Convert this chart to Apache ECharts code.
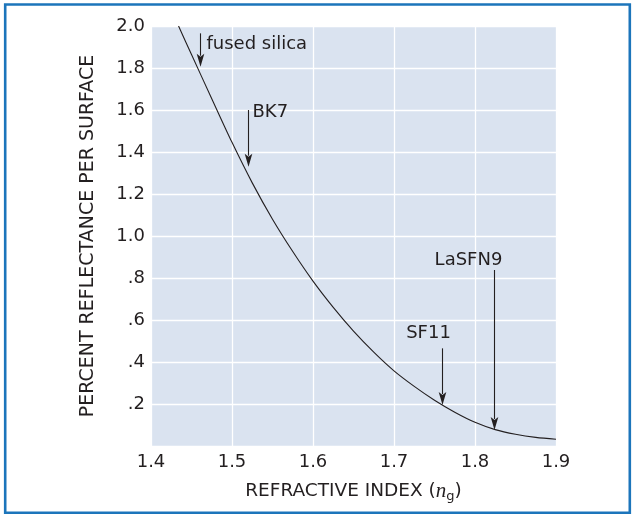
<!DOCTYPE html>
<html><head><meta charset="utf-8">
<script src="https://cdn.jsdelivr.net/npm/echarts@6/dist/echarts.min.js"></script>
<style>html,body{margin:0;padding:0;background:#fff}#c{width:634px;height:515px}</style>
</head><body><div id="c"></div>
<script>
// Curve: refractive index vs percent reflectance per surface
const indexValues = [1.434, 1.45, 1.475, 1.5, 1.525, 1.55, 1.575, 1.6, 1.625, 1.65, 1.675, 1.7, 1.725, 1.75, 1.775, 1.8, 1.825, 1.85, 1.875, 1.9];
const reflectance = [2.00, 1.864, 1.654, 1.446, 1.253, 1.08, 0.926, 0.785, 0.66, 0.547, 0.447, 0.358, 0.284, 0.218, 0.161, 0.113, 0.078, 0.056, 0.041, 0.032];
// Tick labels
const xTickLabels = ['1.4', '1.5', '1.6', '1.7', '1.8', '1.9'];
const yTickLabels = ['', '.2', '.4', '.6', '.8', '1.0', '1.2', '1.4', '1.6', '1.8', '2.0'];
// Glass annotations
const glassNames = ['fused silica', 'BK7', 'SF11', 'LaSFN9'];
const glassIndex = [1.4605, 1.52, 1.7589, 1.8239];
const arrowTop = [1.965, 1.60, 0.465, 0.838];
const arrowTip = [1.806, 1.33, 0.195, 0.076];

const TEXT = '#231f20';
const FONT = 'DejaVu Sans';
// label placement relative to arrow top (pixels) - style only
const labelStyle = [
  { dx: 6, dy: 11, align: 'left' },
  { dx: 4, dy: 2, align: 'left' },
  { dx: -14, dy: -15, align: 'center' },
  { dx: -26, dy: -10, align: 'center' }
];

const curve = indexValues.map((n, i) => [n, reflectance[i]]);
const arrows = glassIndex.map((n, i) => [n, arrowTop[i], arrowTip[i], i]);

const chart = echarts.init(document.getElementById('c'), null, { renderer: 'canvas' });
chart.setOption({
  animation: false,
  backgroundColor: '#ffffff',
  textStyle: { fontFamily: FONT, color: TEXT },
  grid: { left: 151, right: 78, top: 26, bottom: 69, show: true, backgroundColor: '#dae3f0', borderWidth: 0 },
  graphic: [{
    type: 'rect', silent: true, z: 100,
    shape: { x: 5.2, y: 4.5, width: 624.6, height: 508.3 },
    style: { fill: 'none', stroke: '#1c75bb', lineWidth: 2.6 }
  }],
  xAxis: {
    type: 'value', min: 1.4, max: 1.9, interval: 0.1,
    axisLine: { show: false }, axisTick: { show: false },
    splitLine: { show: true, lineStyle: { color: '#ffffff', width: 1.3 } },
    axisLabel: {
      color: TEXT, fontSize: 18, fontFamily: FONT, margin: 7,
      formatter: v => xTickLabels[Math.round((v - 1.4) * 10)]
    },
    name: '{t|REFRACTIVE INDEX (}{n|n}{s|g}{t|)}',
    nameLocation: 'middle', nameGap: 34,
    nameTextStyle: {
      rich: {
        t: { fontSize: 18.5, fontFamily: FONT, color: TEXT },
        n: { fontSize: 21, fontFamily: 'Liberation Serif', fontStyle: 'italic', color: TEXT },
        s: { fontSize: 13, fontFamily: FONT, color: TEXT, padding: [10, 0, 0, 0] }
      }
    }
  },
  yAxis: {
    type: 'value', min: 0, max: 2.0, interval: 0.2,
    axisLine: { show: false }, axisTick: { show: false },
    splitLine: { show: true, lineStyle: { color: '#ffffff', width: 1.3 } },
    axisLabel: {
      color: TEXT, fontSize: 18, fontFamily: FONT, margin: 6,
      formatter: v => yTickLabels[Math.round(v / 0.2)]
    },
    name: 'PERCENT REFLECTANCE PER SURFACE',
    nameLocation: 'middle', nameGap: 53, nameRotate: 90,
    nameTextStyle: { fontSize: 19, fontFamily: FONT, color: TEXT }
  },
  series: [
    {
      type: 'line', data: curve, smooth: 0.3, showSymbol: false, symbol: 'none',
      lineStyle: { color: TEXT, width: 1.1 }, z: 3
    },
    {
      type: 'custom', data: arrows, clip: false, z: 4,
      encode: { x: 0, y: [1, 2] },
      renderItem: function (params, api) {
        const i = api.value(3);
        const p0 = api.coord([api.value(0), api.value(1)]);
        const p1 = api.coord([api.value(0), api.value(2)]);
        const x = Math.round(p0[0]) + 0.5;
        const head = 13, hw = 3.8;
        const ls = labelStyle[i];
        return {
          type: 'group',
          children: [
            { type: 'line', shape: { x1: x, y1: p0[1], x2: x, y2: p1[1] - head + 2 },
              style: { stroke: TEXT, lineWidth: 1.1 } },
            { type: 'polygon', shape: { points: [[x - hw, p1[1] - head], [x, p1[1] - head + 3], [x + hw, p1[1] - head], [x, p1[1]]] },
              style: { fill: TEXT } },
            { type: 'text', style: {
                text: glassNames[i], x: x + ls.dx, y: p0[1] + ls.dy,
                fill: TEXT, fontSize: 18, fontFamily: FONT,
                align: ls.align, verticalAlign: 'middle' } }
          ]
        };
      }
    }
  ]
});
</script>
</body></html>
